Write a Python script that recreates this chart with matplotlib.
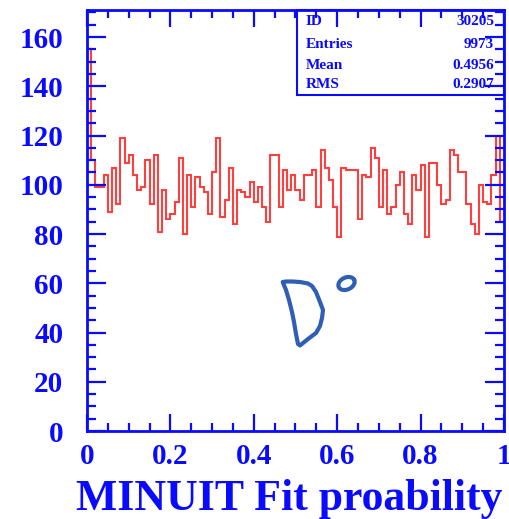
import matplotlib
matplotlib.use('Agg')
import matplotlib.pyplot as plt
import numpy as np
from matplotlib.ticker import MultipleLocator, FixedLocator
from matplotlib.patches import Rectangle
from matplotlib.lines import Line2D

# ---- data ----
counts = [155, 110, 99, 99, 104, 89, 107, 92, 119, 109,
          112, 104, 98, 99, 110, 92, 112, 81, 98, 86,
          88, 93, 111, 80, 104, 91, 103, 99, 97, 88,
          105, 119, 87, 94, 107, 84, 98, 97, 95, 101,
          93, 99, 91, 85, 112, 112, 91, 106, 98, 104,
          98, 94, 104, 104, 106, 91, 114, 107, 102, 91,
          79, 107, 106, 106, 106, 86, 104, 103, 115, 111,
          91, 106, 88, 91, 100, 105, 88, 84, 104, 98,
          108, 79, 109, 109, 100, 92, 94, 114, 112, 105,
          105, 92, 84, 80, 100, 93, 92, 104, 120, 85]
x_range = (0.0, 1.0)
x_ticks = [0, 0.2, 0.4, 0.6, 0.8, 1.0]
x_tick_labels = ["0", "0.2", "0.4", "0.6", "0.8", "1"]
y_ticks = [0, 20, 40, 60, 80, 100, 120, 140, 160]
y_tick_labels = ["0", "20", "40", "60", "80", "100", "120", "140", "160"]
stat_names = ["ID", "Entries", "Mean", "RMS"]
stat_values = ["30205", "9973", "0.4956", "0.2907"]
x_label = "MINUIT Fit proability"

W, H = 510, 519
BLUE = '#0a0aff'
RED = '#ff3f3f'
SERIF = ['Liberation Serif', 'DejaVu Serif']

fig = plt.figure(figsize=(W / 100, H / 100), dpi=100)
ax = fig.add_axes([87 / W, 1 - 431 / H, (504 - 87) / W, (431 - 10) / H])

edges = np.linspace(x_range[0], x_range[1], len(counts) + 1)
ax.stairs(counts, edges, color=RED, lw=1.5, baseline=None)

ax.set_xlim(*x_range)
ax.set_ylim(0, 171)

ax.xaxis.set_major_locator(FixedLocator(x_ticks))
ax.set_xticklabels(x_tick_labels)
ax.xaxis.set_minor_locator(MultipleLocator(0.05))
ax.yaxis.set_major_locator(FixedLocator(y_ticks))
ax.set_yticklabels(y_tick_labels)
ax.yaxis.set_minor_locator(MultipleLocator(5))

for s in ax.spines.values():
    s.set_color(BLUE)
    s.set_linewidth(2.0)

ax.tick_params(which='both', direction='in', top=True, right=True, color=BLUE, width=1.6)
ax.tick_params(axis='x', which='major', length=12.5, pad=9)
ax.tick_params(axis='x', which='minor', length=6)
ax.tick_params(axis='y', which='major', length=13.5, pad=17)
ax.tick_params(axis='y', which='minor', length=6.5)

for lab in ax.get_xticklabels() + ax.get_yticklabels():
    lab.set_fontfamily(SERIF)
    lab.set_fontweight('bold')
    lab.set_fontsize(21)
    lab.set_color(BLUE)

# stat box
ax.add_patch(Rectangle((0.5024, 0.798), 1 - 0.5024, 1 - 0.798, transform=ax.transAxes,
                       fill=False, edgecolor=BLUE, lw=1.5, clip_on=False, zorder=4))
row_y = [0.9715, 0.919, 0.869, 0.822]
for name, val, yy in zip(stat_names, stat_values, row_y):
    ax.text(0.525, yy, name, transform=ax.transAxes, ha='left', va='center',
            fontfamily=SERIF, fontweight='bold', fontsize=11, color=BLUE)
    ax.text(0.976, yy, val, transform=ax.transAxes, ha='right', va='center',
            fontfamily=SERIF, fontweight='bold', fontsize=11, color=BLUE)

fig.text(289 / W, 1 - 510 / H, x_label, ha='center', va='baseline',
         fontfamily=SERIF, fontweight='bold', fontsize=31.5, color=BLUE)

# hand-drawn "D°" annotation (pixel positions of the pen stroke)
PEN = '#2f5fb5'
d_px = [(282.7, 282), (286, 281.5), (292, 281.5), (300, 282), (308, 283.5), (312, 286),
        (316, 292), (320, 302), (323, 310), (322, 318), (320, 326), (316, 333),
        (308, 339), (300, 345.5), (298, 344), (296, 334), (294, 322), (292, 312),
        (289, 300), (286, 290), (283.5, 284)]
xs = [p[0] / W for p in d_px]
ys = [1 - p[1] / H for p in d_px]
fig.add_artist(Line2D(xs, ys, transform=fig.transFigure, color=PEN, lw=3.0,
                      solid_joinstyle='round', solid_capstyle='round'))
t = np.linspace(0, 2 * np.pi, 60)
cx, cy, a, b, ang = 346.5, 283.5, 8.5, 6.0, np.deg2rad(-25)
ex = cx + a * np.cos(t) * np.cos(ang) - b * np.sin(t) * np.sin(ang)
ey = cy + a * np.cos(t) * np.sin(ang) + b * np.sin(t) * np.cos(ang)
fig.add_artist(Line2D(ex / W, 1 - ey / H, transform=fig.transFigure, color=PEN, lw=3.0,
                      solid_joinstyle='round', solid_capstyle='round'))

fig.savefig('out.png', dpi=100)
